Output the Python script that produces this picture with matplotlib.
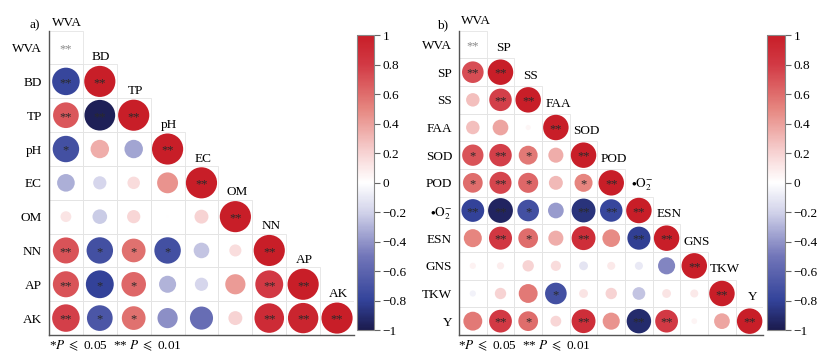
import numpy as np
import matplotlib
matplotlib.use("Agg")
import matplotlib.pyplot as plt
from matplotlib.patches import Circle, Rectangle
from matplotlib.colors import LinearSegmentedColormap, Normalize
from matplotlib.cm import ScalarMappable

plt.rcParams["font.family"] = ["Liberation Serif", "DejaVu Serif"]
plt.rcParams["mathtext.fontset"] = "stix"

nan = np.nan

# panel a: soil properties
vars_a = ["WVA", "BD", "TP", "pH", "EC", "OM", "NN", "AP", "AK"]
r_a = [
    [nan],
    [-0.78, 1],
    [0.68, -0.97, 1],
    [-0.72, 0.35, -0.35, 1],
    [-0.32, -0.18, 0.16, 0.45, 1],
    [0.12, -0.22, 0.18, 0.005, 0.2, 1],
    [0.70, -0.72, 0.58, -0.72, -0.25, 0.15, 1],
    [0.70, -0.80, 0.62, -0.30, -0.18, 0.42, 0.80, 1],
    [0.78, -0.68, 0.58, -0.42, -0.55, 0.20, 0.90, 0.95, 1],
]
sig_a = [
    ["**"],
    ["**", "**"],
    ["**", "**", "**"],
    ["*", "", "", "**"],
    ["", "", "", "", "**"],
    ["", "", "", "", "", "**"],
    ["**", "*", "*", "*", "", "", "**"],
    ["**", "*", "*", "", "", "", "**", "**"],
    ["**", "*", "*", "", "", "", "**", "**", "**"],
]

# panel b: physiology and yield
vars_b = ["WVA", "SP", "SS", "FAA", "SOD", "POD", r"$\bullet\mathrm{O}_2^{-}$",
          "ESN", "GNS", "TKW", "Y"]
r_b = [
    [nan],
    [0.72, 1],
    [0.28, 0.78, 1],
    [0.28, 0.38, 0.04, 1],
    [0.70, 0.78, 0.55, 0.35, 1],
    [0.60, 0.75, 0.62, 0.30, 0.50, 1],
    [-0.80, -0.95, -0.72, -0.38, -0.88, -0.78, 1],
    [0.50, 0.82, 0.60, 0.35, 0.88, 0.48, -0.82, 1],
    [0.06, 0.08, 0.20, 0.16, -0.12, 0.10, -0.10, -0.45, 1],
    [-0.06, 0.20, 0.55, -0.72, 0.12, 0.20, -0.25, 0.12, 0.10, 1],
    [0.55, 0.80, 0.60, 0.18, 0.88, 0.45, -0.92, 0.80, 0.05, 0.38, 1],
]
sig_b = [
    ["**"],
    ["**", "**"],
    ["", "**", "**"],
    ["", "", "", "**"],
    ["*", "**", "*", "", "**"],
    ["*", "**", "*", "", "*", "**"],
    ["**", "**", "*", "", "**", "**", "**"],
    ["", "**", "*", "", "**", "", "**", "**"],
    ["", "", "", "", "", "", "", "", "**"],
    ["", "", "", "*", "", "", "", "", "", "**"],
    ["", "**", "*", "", "**", "", "**", "**", "", "", "**"],
]

cmap = LinearSegmentedColormap.from_list("bwr_corr", [
    (0.0, "#1b1b4e"), (0.1, "#33439a"), (0.25, "#7276b9"), (0.4, "#d2d3ea"),
    (0.5, "#ffffff"), (0.6, "#f7d3d3"), (0.75, "#e68680"), (0.9, "#d23a45"),
    (1.0, "#c81e28")])
norm = Normalize(-1, 1)

FS = 9.5


def corr_panel(fig, rect, cbar_rect, names, vals, sigs, lab_dx, lab_dy):
    n = len(names)
    ax = fig.add_axes(rect)
    for i in range(n):
        for j in range(i + 1):
            ax.add_patch(Rectangle((j - 0.5, i - 0.5), 1, 1, fill=False,
                                   ec="#e4e4e4", lw=0.6, zorder=1))
            v = vals[i][j]
            if not np.isnan(v):
                ax.add_patch(Circle((j, i), 0.46 * np.sqrt(abs(v)),
                                    fc=cmap(norm(v)), ec="none", zorder=2))
                col = "#2a2a2a"
            else:
                col = "#8a8a8a"
            if sigs[i][j]:
                ax.text(j, i + 0.05, sigs[i][j], ha="center", va="center",
                        fontsize=9, color=col, zorder=3)
        # column label above the diagonal cell
        ax.annotate(names[i], (i, i - 0.5), xytext=(lab_dx, lab_dy),
                    textcoords="offset points", ha="center", va="bottom",
                    fontsize=FS, annotation_clip=False)
    ax.set_xlim(-0.5, n - 0.5)
    ax.set_ylim(n - 0.5, -0.5)
    ax.set_xticks([])
    ax.set_yticks(range(n))
    ax.set_yticklabels(names, fontsize=FS)
    ax.tick_params(axis="y", length=0, pad=5)
    for s in ("top", "right"):
        ax.spines[s].set_visible(False)
    for s in ("left", "bottom"):
        ax.spines[s].set_color("#555555")
        ax.spines[s].set_linewidth(1.0)

    cax = fig.add_axes(cbar_rect)
    cb = fig.colorbar(ScalarMappable(norm=norm, cmap=cmap), cax=cax)
    cb.set_ticks(np.linspace(-1, 1, 11))
    cb.set_ticklabels(["\u22121", "\u22120.8", "\u22120.6", "\u22120.4", "\u22120.2",
                       "0", "0.2", "0.4", "0.6", "0.8", "1"])
    cb.outline.set_edgecolor("#888888")
    cb.outline.set_linewidth(0.8)
    cax.tick_params(length=4, width=0.8, color="#666666", labelsize=FS, pad=2)
    return ax


fig = plt.figure(figsize=(8.4, 3.64), dpi=100)

corr_panel(fig, [0.0583, 0.0797, 0.3631, 0.836], [0.425, 0.0934, 0.0202, 0.8104],
           vars_a, r_a, sig_a, 1, 1)
corr_panel(fig, [0.5464, 0.0797, 0.3625, 0.836], [0.9131, 0.0934, 0.0214, 0.8104],
           vars_b, r_b, sig_b, 2, 3)

fig.text(35 / 840, 1 - 25 / 364, "a)", ha="center", va="center", fontsize=FS)
fig.text(443 / 840, 1 - 25 / 364, "b)", ha="center", va="center", fontsize=FS)

foot = r"*$P$ $\leqslant$ 0.05  ** $P$ $\leqslant$ 0.01"
fig.text(49 / 840, 1 - 346 / 364, foot, ha="left", va="center", fontsize=FS)
fig.text(458 / 840, 1 - 346 / 364, foot, ha="left", va="center", fontsize=FS)

fig.savefig("out.png", dpi=100)
